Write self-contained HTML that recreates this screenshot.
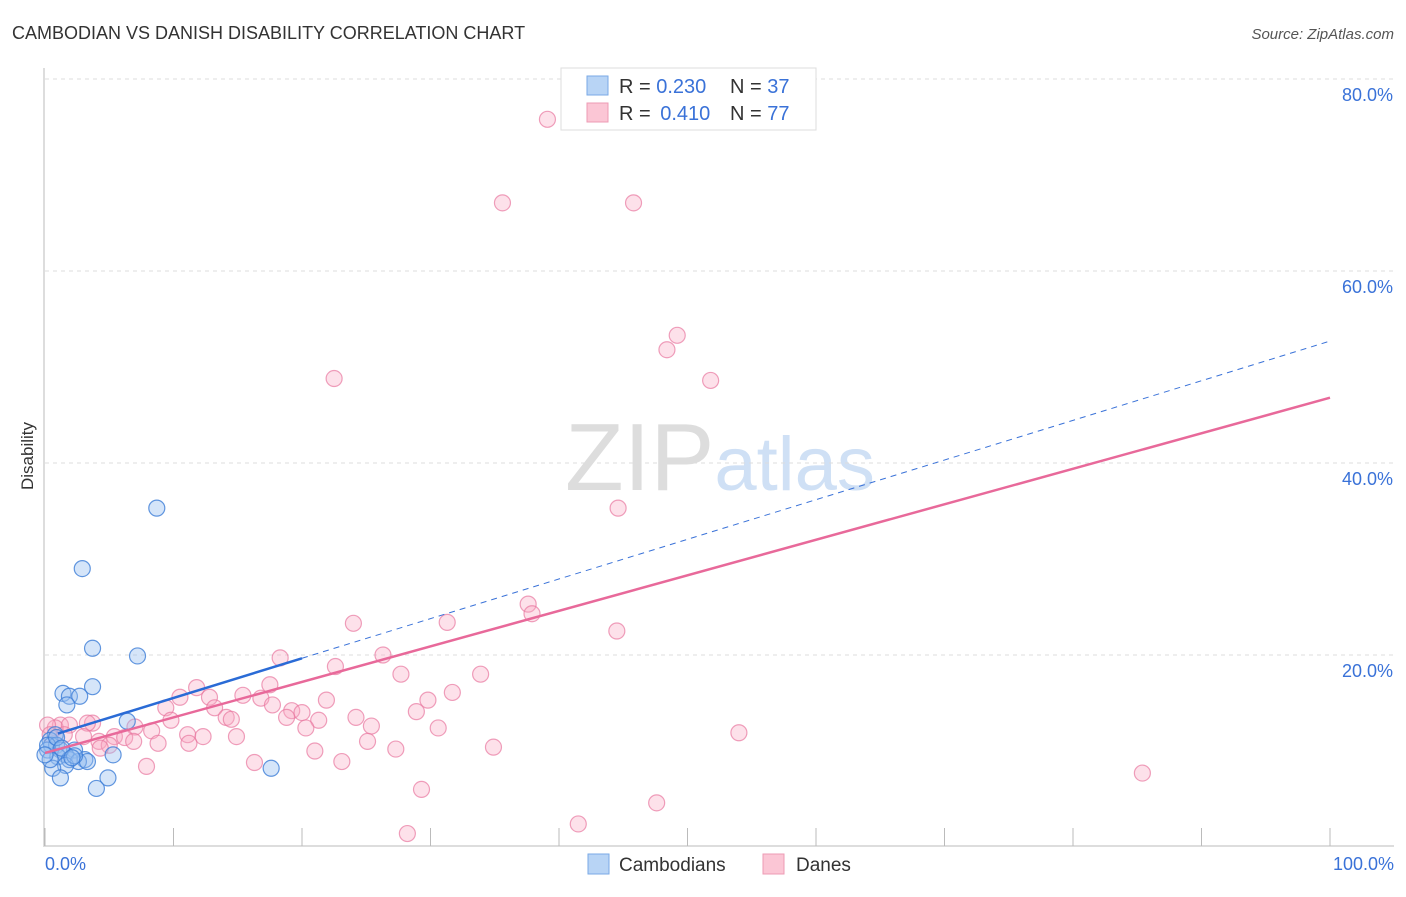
<!DOCTYPE html>
<html><head><meta charset="utf-8"><style>
body{margin:0;background:#fff;font-family:"Liberation Sans",sans-serif;}
svg text{font-family:"Liberation Sans",sans-serif;}
</style></head><body>
<svg id="chart" width="1406" height="892" xmlns="http://www.w3.org/2000/svg">
<text x="12" y="39" font-size="18" fill="#333">CAMBODIAN VS DANISH DISABILITY CORRELATION CHART</text>
<text x="1394" y="39" font-size="15" fill="#555" text-anchor="end" font-style="italic">Source: ZipAtlas.com</text>
<text x="720" y="490" font-size="96" text-anchor="middle" fill="#ddd" font-family="Liberation Serif"><tspan fill="#ddd">ZIP</tspan><tspan fill="#cfe0f5" font-family="Liberation Sans" font-size="76">atlas</tspan></text>
<g id="grid"></g>
<g id="axes"></g>
<g id="pink"></g>
<g id="blue"></g>
<g id="lines"></g>
<text transform="translate(33,456) rotate(-90)" font-size="17" fill="#333" text-anchor="middle">Disability</text>
<g>
<rect x="561" y="68" width="255" height="62" fill="#fff" stroke="#ddd"/>
<rect x="587" y="76" width="21" height="19" fill="#b8d4f5" stroke="#7aa9e6"/>
<rect x="587" y="103" width="21" height="19" fill="#fbc6d5" stroke="#ee9bb4"/>
<text x="619" y="93" font-size="20" fill="#333">R = <tspan fill="#3a72d8">0.230</tspan></text>
<text x="730" y="93" font-size="20" fill="#333">N = <tspan fill="#3a72d8">37</tspan></text>
<text x="619" y="120" font-size="20" fill="#333">R = <tspan fill="#3a72d8" dx="4">0.410</tspan></text>
<text x="730" y="120" font-size="20" fill="#333">N = <tspan fill="#3a72d8">77</tspan></text>
</g>
<g>
<rect x="588" y="854" width="21" height="20" fill="#b8d4f5" stroke="#7aa9e6"/>
<text x="619" y="871" font-size="19" fill="#333">Cambodians</text>
<rect x="763" y="854" width="21" height="20" fill="#fbc6d5" stroke="#ee9bb4"/>
<text x="796" y="871" font-size="19" fill="#333">Danes</text>
</g>
</svg>
<script>
const yTicks=[20,40,60,80];
const yTickLabels=["20.0%","40.0%","60.0%","80.0%"];
const xTickValues=[0,10,20,30,40,50,60,70,80,90,100];
const xEndLabels=["0.0%","100.0%"];
const blueX=[8.7,2.9,3.7,7.2,3.7,1.4,1.9,2.7,1.7,6.4,0.8,0.4,0.5,0.9,0.2,1.2,2.3,1.6,3.1,5.3,1.0,1.9,2.6,3.3,1.6,0.6,1.2,4.9,4.0,17.6,0.2,0.9,1.3,2.3,0.4,2.1,0.0];
const blueY=[35.3,29.0,20.7,19.9,16.7,16.0,15.7,15.7,14.8,13.1,11.7,11.1,10.6,10.6,10.1,10.1,10.1,9.6,9.1,9.6,9.4,9.1,8.9,8.9,8.5,8.2,7.2,7.2,6.1,8.2,10.6,11.4,10.3,9.5,9.1,9.3,9.6];
const pinkX=[39.1,35.6,45.8,49.2,48.4,51.8,22.5,44.6,37.6,37.9,44.5,31.3,24.0,26.3,18.3,22.6,27.7,33.9,31.7,17.5,11.8,10.5,15.4,12.8,16.8,21.9,29.8,28.9,9.4,13.2,19.2,17.7,20.0,14.1,18.8,14.5,24.2,21.3,9.8,25.4,20.3,30.6,3.7,3.3,7.0,1.2,0.8,1.9,8.3,3.0,5.4,11.1,14.9,12.3,4.2,6.2,5.0,6.9,8.8,11.2,25.1,34.9,27.3,21.0,54.0,7.9,16.3,23.1,85.4,29.3,47.6,41.5,28.2,0.2,0.4,4.3,1.5];
const pinkY=[75.8,67.1,67.1,53.3,51.8,48.6,48.8,35.3,25.3,24.3,22.5,23.4,23.3,20.0,19.7,18.8,18.0,18.0,16.1,16.9,16.6,15.6,15.8,15.6,15.5,15.3,15.3,14.1,14.5,14.5,14.2,14.8,14.0,13.5,13.5,13.3,13.5,13.2,13.2,12.6,12.4,12.4,12.9,12.9,12.5,12.7,12.4,12.7,12.1,11.5,11.5,11.7,11.5,11.5,11.0,11.4,10.6,11.0,10.8,10.8,11.0,10.4,10.2,10.0,11.9,8.4,8.8,8.9,7.7,6.0,4.6,2.4,1.4,12.7,11.7,10.3,11.7];
const blueTrend=[11.4,0.413];
const pinkTrend=[9.8,0.37];
const NS="http://www.w3.org/2000/svg";
const X0=45,X1=1330,Y0=847,Y80=79;
function sx(v){return X0+(X1-X0)*v/100;}
function sy(v){return Y0-(Y0-Y80)*v/80;}
function mk(tag,attrs,parent){const e=document.createElementNS(NS,tag);for(const k in attrs)e.setAttribute(k,attrs[k]);parent.appendChild(e);return e;}
const grid=document.getElementById('grid'),axes=document.getElementById('axes');
yTicks.forEach((t,i)=>{
 const l=mk('line',{x1:45,x2:1394,y1:sy(t),y2:sy(t),stroke:'#ddd','stroke-dasharray':'4,4'},grid);
 
 
 const tx=mk('text',{x:1393,y:sy(t)+22,'font-size':18,fill:'#3a72d8','text-anchor':'end'},axes);
 tx.textContent=yTickLabels[i];
 
 
});
const ya=mk('line',{x1:44,x2:44,y1:68,y2:847,stroke:'#bbb'},axes);


const xa=mk('line',{x1:45,x2:1394,y1:846,y2:846,stroke:'#bbb'},axes);


xTickValues.forEach(v=>{
 const t=mk('line',{x1:sx(v),x2:sx(v),y1:828,y2:846,stroke:'#bbb'},axes);
 
 
});
[[0,'start',45],[100,'end',1394]].forEach((p,i)=>{
 const tx=mk('text',{x:p[2],y:870,'font-size':18,fill:'#3a72d8','text-anchor':p[1]},axes);
 tx.textContent=xEndLabels[i];
 
 
});
function pts(xs,ys,g,fill,stroke,name){
 xs.forEach((x,i)=>{
  const c=mk('circle',{cx:sx(x),cy:sy(ys[i]),r:8,fill:fill,stroke:stroke,'stroke-width':1.2},g);
  
  
 });
}
pts(pinkX,pinkY,document.getElementById('pink'),'rgba(248,170,195,0.35)','rgba(232,120,160,0.7)','dane-point');
pts(blueX,blueY,document.getElementById('blue'),'rgba(150,190,240,0.4)','rgba(60,125,215,0.8)','cambodian-point');
const lg=document.getElementById('lines');
const pl=mk('line',{x1:sx(0),y1:sy(pinkTrend[0]),x2:sx(100),y2:sy(pinkTrend[0]+pinkTrend[1]*100),stroke:'#e8699a','stroke-width':2.5},lg);


const bd=mk('line',{x1:sx(20),y1:sy(blueTrend[0]+blueTrend[1]*20),x2:sx(100),y2:sy(blueTrend[0]+blueTrend[1]*100),stroke:'#3a72d8','stroke-width':1,'stroke-dasharray':'6,5'},lg);


const bl=mk('line',{x1:sx(1),y1:sy(blueTrend[0]+blueTrend[1]*1),x2:sx(20),y2:sy(blueTrend[0]+blueTrend[1]*20),stroke:'#2a6bd6','stroke-width':2.5},lg);


</script>
</body></html>
